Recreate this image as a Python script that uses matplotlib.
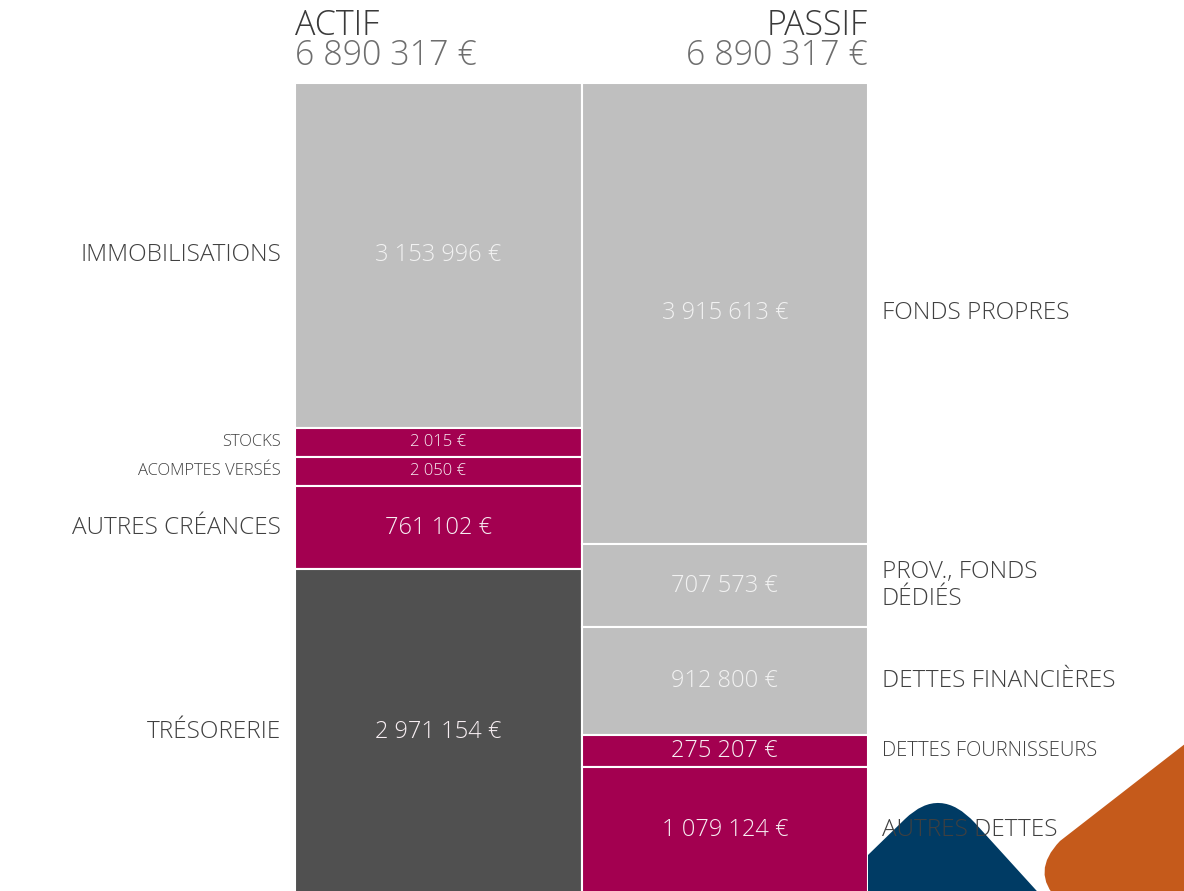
import numpy as np
import matplotlib.pyplot as plt
from matplotlib.path import Path
from matplotlib.patches import PathPatch

plt.rcParams['font.family'] = ['Open Sans', 'DejaVu Sans']

total = 6890317

actif_labels = ['IMMOBILISATIONS', 'STOCKS', 'ACOMPTES VERSÉS', 'AUTRES CRÉANCES', 'TRÉSORERIE']
actif_values = [3153996, 2015, 2050, 761102, 2971154]
actif_colors = ['#bfbfbf', '#a30050', '#a30050', '#a30050', '#505050']

passif_labels = ['FONDS PROPRES', 'PROV., FONDS\nDÉDIÉS', 'DETTES FINANCIÈRES',
                 'DETTES FOURNISSEURS', 'AUTRES DETTES']
passif_values = [3915613, 707573, 912800, 275207, 1079124]
passif_colors = ['#bfbfbf', '#bfbfbf', '#bfbfbf', '#a30050', '#a30050']


def fmt(v):
    return f"{v:,}".replace(",", " ") + " €"


def shown_heights(values, min_frac=0.036):
    # tiny items get a minimum block, the rest share what is left
    vals = np.array(values, dtype=float)
    m = min_frac * total
    small = vals < m
    rest = total - m * small.sum()
    h = np.where(small, m, vals / vals[~small].sum() * rest)
    return h


fig = plt.figure(figsize=(11.84, 8.91), dpi=100)
ax = fig.add_axes([295 / 1184, -3 / 891, 573 / 1184, 811 / 891])
ax.set_xlim(-0.5, 1.5)
ax.set_ylim(total, 0)
ax.axis('off')


def draw_column(x, labels, values, colors, side, label_sizes):
    h = shown_heights(values)
    bottoms = np.concatenate([[0], np.cumsum(h)[:-1]])
    ax.bar(x, h, bottom=bottoms, width=1.0, color=colors, edgecolor='white',
           linewidth=1.5, align='center')
    for lab, v, hh, b, c, fs in zip(labels, values, h, bottoms, colors, label_sizes):
        mid = b + hh / 2
        small = fs < 13
        txt_col = '#f2f2f2' if c == '#bfbfbf' else '#f7eef2'
        ax.text(x, mid, fmt(v), ha='center', va='center', color=txt_col,
                fontsize=12 if small else 17, fontweight='light')
        if side == 'left':
            ax.annotate(lab, xy=(-0.5, mid), xytext=(-10, 0), textcoords='offset points',
                        ha='right', va='center', color='#404040', fontsize=fs,
                        fontweight='light', annotation_clip=False, zorder=5)
        else:
            ax.annotate(lab, xy=(1.5, mid), xytext=(10, 0), textcoords='offset points',
                        ha='left', va='center', color='#404040', fontsize=fs,
                        fontweight='light', annotation_clip=False, zorder=5,
                        linespacing=1.15)


draw_column(0, actif_labels, actif_values, actif_colors, 'left', [17.5, 12, 12, 17.5, 17.5])
draw_column(1, passif_labels, passif_values, passif_colors, 'right', [17.5, 17.5, 17.5, 14.5, 17.5])

# headers
ax.text(0, 1.0595, 'ACTIF', transform=ax.transAxes, ha='left', va='baseline',
        fontsize=24.5, color='#3a3a3a', fontweight='light')
ax.text(0, 1.0225, fmt(total), transform=ax.transAxes, ha='left', va='baseline',
        fontsize=24.5, color='#6e6e6e', fontweight='light')
ax.text(1, 1.0595, 'PASSIF', transform=ax.transAxes, ha='right', va='baseline',
        fontsize=24.5, color='#3a3a3a', fontweight='light')
ax.text(1, 1.0225, fmt(total), transform=ax.transAxes, ha='right', va='baseline',
        fontsize=24.5, color='#6e6e6e', fontweight='light')

# decorative corner shapes (pixel overlay)
deco = fig.add_axes([0, 0, 1, 1], zorder=3)
deco.set_xlim(0, 1184)
deco.set_ylim(891, 0)
deco.axis('off')
deco.patch.set_alpha(0)

blue = Path([(868, 900), (868, 855), (905, 819), (940, 785), (975, 823), (1045, 900), (868, 900)],
            [Path.MOVETO, Path.LINETO, Path.LINETO, Path.CURVE3, Path.CURVE3, Path.LINETO, Path.CLOSEPOLY])
deco.add_patch(PathPatch(blue, facecolor='#003b64', edgecolor='none'))
orange = Path([(1190, 740), (1060, 841), (1030, 872), (1058, 900), (1190, 900), (1190, 740)],
              [Path.MOVETO, Path.LINETO, Path.CURVE3, Path.CURVE3, Path.LINETO, Path.CLOSEPOLY])
deco.add_patch(PathPatch(orange, facecolor='#c55a1b', edgecolor='none'))

# the label sits on top of the shapes
ax.set_zorder(4)

fig.savefig('out.png', dpi=100)
